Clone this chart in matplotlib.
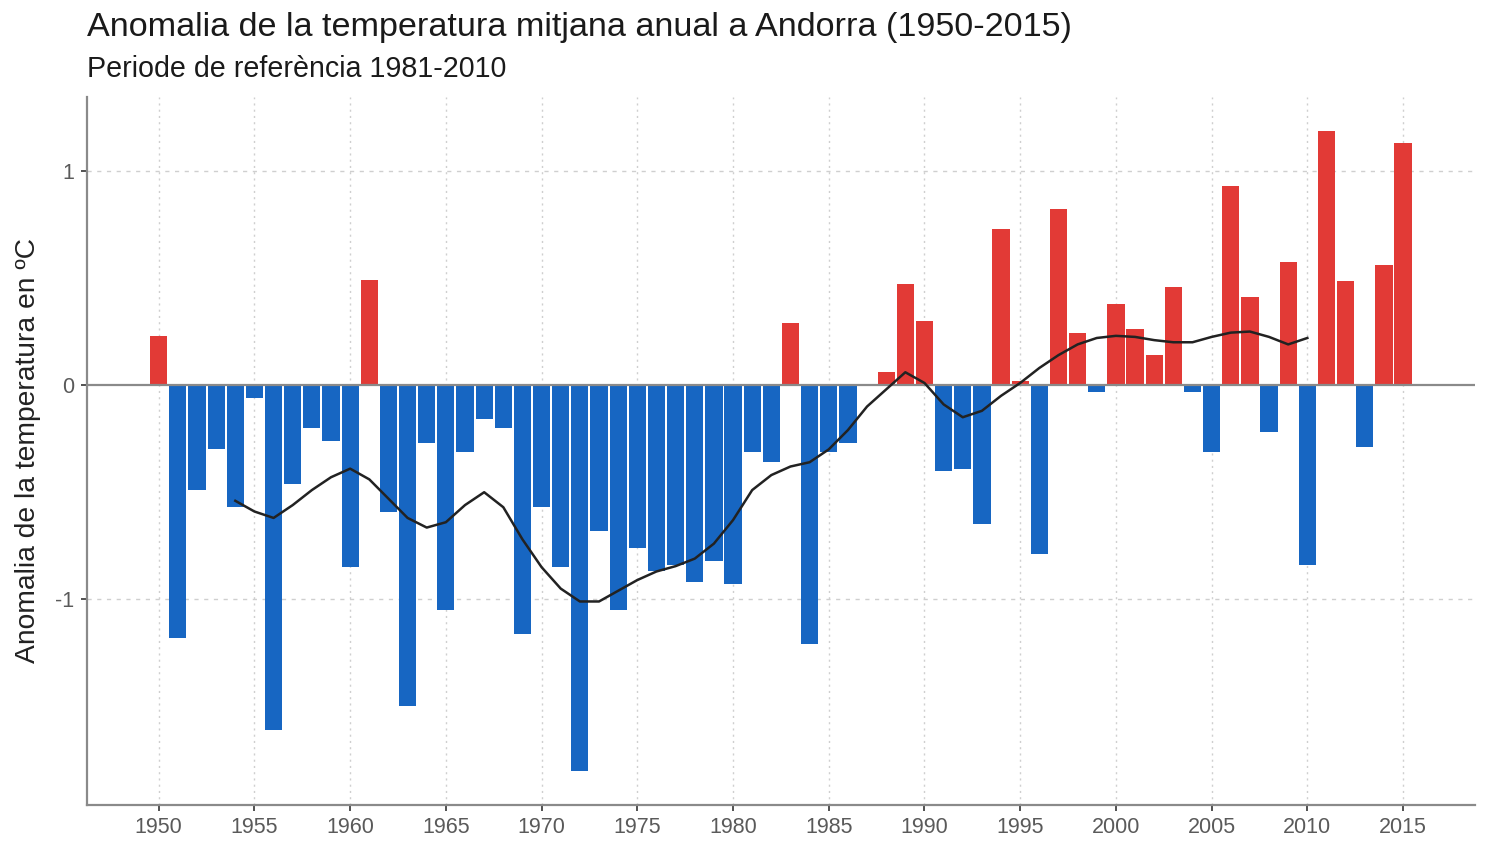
import numpy as np
import matplotlib
matplotlib.use("Agg")
import matplotlib.pyplot as plt

plt.rcParams['font.family'] = ['Liberation Sans', 'DejaVu Sans']

# anomalia anual (ºC) respecte 1981-2010, llegida del grafic
years = np.arange(1950, 2016)
anomaly = [
    0.23, -1.18, -0.49, -0.30, -0.57, -0.06, -1.61, -0.46, -0.20, -0.26,   # 1950-59
    -0.85, 0.49, -0.59, -1.50, -0.27, -1.05, -0.31, -0.16, -0.20, -1.16,   # 1960-69
    -0.57, -0.85, -1.80, -0.68, -1.05, -0.76, -0.87, -0.84, -0.92, -0.82,  # 1970-79
    -0.93, -0.31, -0.36, 0.29, -1.21, -0.31, -0.27, 0.0, 0.06, 0.47,       # 1980-89
    0.30, -0.40, -0.39, -0.65, 0.73, 0.02, -0.79, 0.82, 0.245, -0.03,      # 1990-99
    0.38, 0.26, 0.14, 0.46, -0.03, -0.31, 0.93, 0.41, -0.22, 0.575,        # 2000-09
    -0.84, 1.185, 0.485, -0.29, 0.56, 1.13,                                # 2010-15
]

# corba suavitzada (1954-2010)
smooth_years = np.arange(1954, 2011)
smooth = [
    -0.54, -0.59, -0.62, -0.56, -0.49, -0.43, -0.39, -0.44, -0.53, -0.62,
    -0.665, -0.64, -0.56, -0.50, -0.57, -0.72, -0.85, -0.95, -1.01, -1.01,
    -0.96, -0.91, -0.87, -0.845, -0.81, -0.74, -0.63, -0.49, -0.42, -0.38,
    -0.36, -0.30, -0.21, -0.10, -0.02, 0.06, 0.01, -0.09, -0.15, -0.12,
    -0.05, 0.01, 0.08, 0.14, 0.19, 0.22, 0.23, 0.225, 0.21, 0.20,
    0.20, 0.225, 0.245, 0.25, 0.225, 0.19, 0.22,
]

xticks = np.arange(1950, 2016, 5)
yticks = [-1, 0, 1]

red = "#E23A36"
blue = "#1766C2"
colors = [red if v > 0 else blue for v in anomaly]

fig = plt.figure(figsize=(14.86, 8.47), dpi=100)
ax = fig.add_axes([0.0585, 0.0496, 0.934, 0.8359])

# graella puntejada
for x in xticks:
    ax.axvline(x, color="#cfcfcf", lw=1.0, ls=(0, (1.5, 3)), zorder=0)
for y in [-1, 1]:
    ax.axhline(y, color="#cfcfcf", lw=1.0, ls=(0, (3, 4)), zorder=0)

ax.bar(years, anomaly, width=0.9, color=colors, edgecolor="none", zorder=2)
ax.axhline(0, color="#8a8a8a", lw=1.6, zorder=3)
ax.plot(smooth_years, smooth, color="#222222", lw=1.8, zorder=4,
        solid_joinstyle="round")

ax.set_xlim(1946.25, 2018.75)
ax.set_ylim(-1.96, 1.345)
ax.set_xticks(xticks)
ax.set_yticks(yticks)
ax.set_yticklabels(["-1", "0", "1"])

for s in ["top", "right"]:
    ax.spines[s].set_visible(False)
for s in ["left", "bottom"]:
    ax.spines[s].set_color("#8a8a8a")
    ax.spines[s].set_linewidth(1.6)

ax.tick_params(axis="both", length=4, width=1.2, color="#333333",
               labelcolor="#5a5a5a", labelsize=15.5, pad=5)
ax.set_ylabel("Anomalia de la temperatura en ºC", fontsize=20.3, color="#222222",
              labelpad=10)

fig.text(0.0585, 0.968, "Anomalia de la temperatura mitjana anual a Andorra (1950-2015)",
         fontsize=24.6, color="#1a1a1a", ha="left", va="center")
fig.text(0.0585, 0.919, "Periode de referència 1981-2010",
         fontsize=20.6, color="#1a1a1a", ha="left", va="center")

fig.savefig("out.png", dpi=100, facecolor="white")
